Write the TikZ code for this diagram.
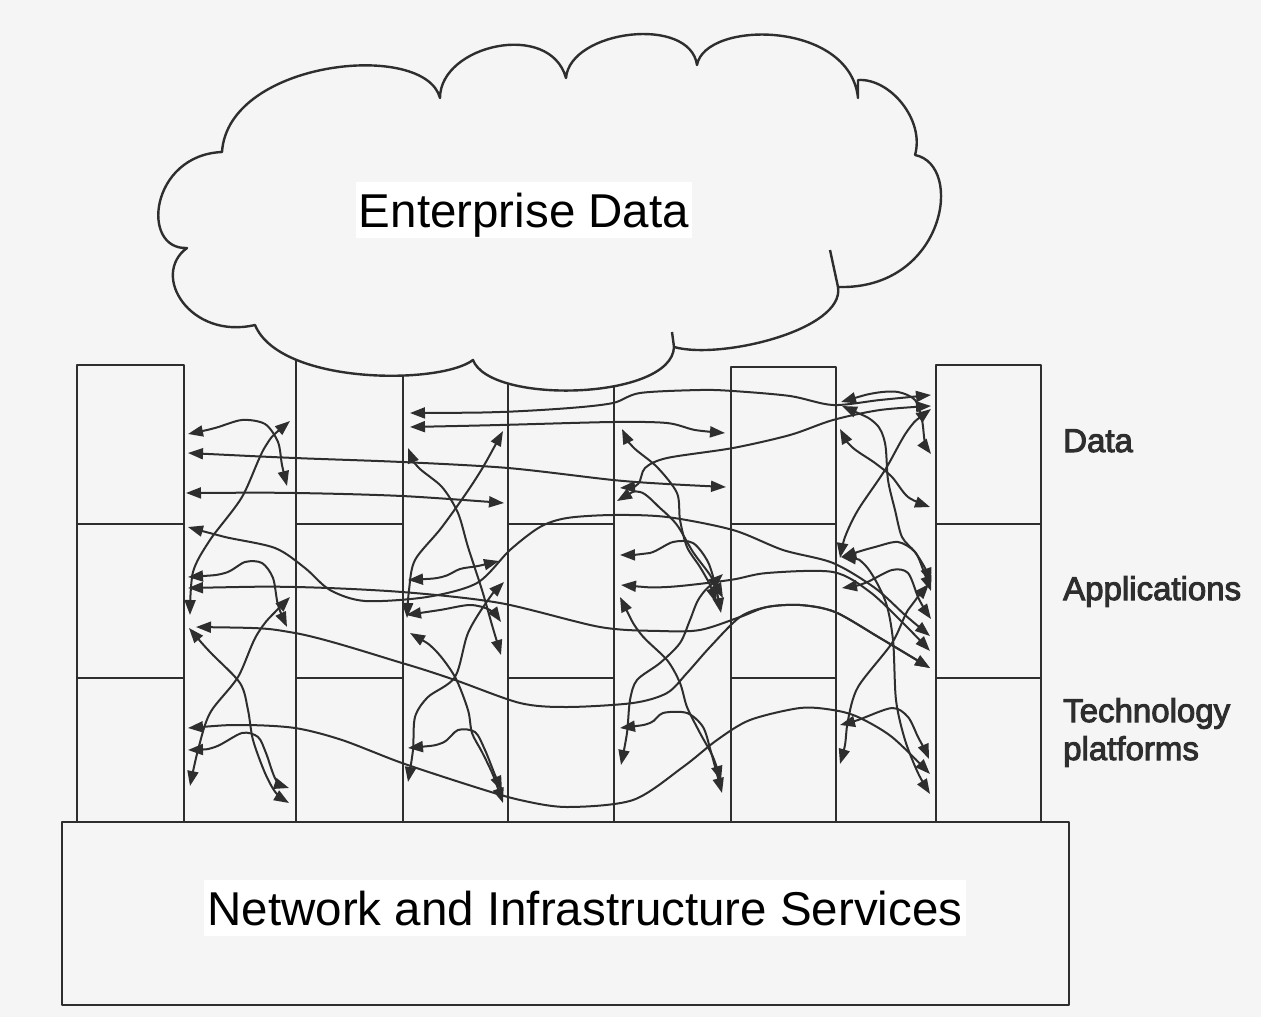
\documentclass[tikz,border=0pt]{standalone}
\usepackage{fontspec}
\setmainfont{Liberation Sans}
\newfontfamily\layerfont{Liberation Sans}[BoldFont={Liberation Sans}, BoldFeatures={FakeBold=3}]
\usetikzlibrary{arrows.meta}
\definecolor{paper}{gray}{0.96}
\definecolor{ink}{gray}{0.18}

\begin{document}
\begin{tikzpicture}[x=1pt,y=-1pt,
  frame/.style={draw=ink, line width=2.4pt, line join=round},
  wire/.style={draw=ink, line width=2pt, line join=round,
    {Triangle[length=15pt,width=11pt]}-{Triangle[length=15pt,width=11pt]}},
  banner/.style={fill=white, inner xsep=3pt, inner ysep=0pt,
    text height=45pt, text depth=11pt, font=\fontsize{47.5}{57}\selectfont},
  layer/.style={anchor=base west, text=black!82, inner sep=0pt,
    font=\layerfont\bfseries\fontsize{33}{38}\selectfont}]

\useasboundingbox (0,0) rectangle (1261,1017);
\fill[paper] (0,0) rectangle (1261,1017);

% ---- the five stacks: data / applications / technology platforms
\foreach \l/\r/\t in {77/184/365, 296/403/340, 508/614/340, 731/836/367, 936/1041/365} {
  \draw[frame] (\l,822) -- (\l,\t) -- (\r,\t) -- (\r,822);
  \draw[frame] (\l,524) -- (\r,524) (\l,678) -- (\r,678);
}

% ---- enterprise data cloud (covers the tops of the middle stacks)
\draw[frame, fill=paper] (187,248)
  .. controls (140,250) and (150,155) .. (222,152)
  .. controls (228,60) and (425,40) .. (440,98)
  .. controls (440,45) and (550,20) .. (566,78)
  .. controls (570,30) and (690,15) .. (697,65)
  .. controls (705,20) and (850,20) .. (858,98)
  -- (858,80)
  .. controls (890,78) and (925,120) .. (915,155)
  .. controls (965,165) and (945,290) .. (838,287)
  .. controls (845,330) and (720,360) .. (674,347)
  .. controls (672,400) and (490,405) .. (473,360)
  .. controls (440,385) and (280,385) .. (255,325)
  .. controls (190,340) and (150,275) .. (187,248) -- cycle;
\draw[frame] (838,287) -- (830,250);
\draw[frame] (674,347) -- (672,332);

% ---- network and infrastructure base
\draw[frame] (62,822) rectangle (1069,1005);

% ---- point-to-point interfaces, gap 1
\draw[wire] plot[smooth] coordinates {(188,434) (215,428) (242,420) (265,424) (278,442) (282,465) (287,486)};
\draw[wire] plot[smooth] coordinates {(188,453) (295,458) (402,462) (508,468) (613,480) (667,484) (726,487)};
\draw[wire] plot[smooth] coordinates {(186,493) (295,493) (402,496) (504,503)};
\draw[wire] plot[smooth] coordinates {(290,421) (265,447) (242,497) (210,540) (193,572) (190,615)};
\draw[wire] plot[smooth] coordinates {(188,527) (225,537) (275,548) (305,568) (330,590) (365,601) (427,597) (477,583) (510,550) (540,527) (567,518) (613,515) (667,517) (733,530) (783,550) (833,563) (875,588) (905,615) (930,636)};
\draw[wire] plot[smooth] coordinates {(188,577) (225,573) (245,562) (262,563) (273,578) (278,605) (287,627)};
\draw[wire] plot[smooth] coordinates {(188,588) (295,587) (402,592) (500,603) (600,627) (660,631) (700,630) (740,617) (767,607) (800,605) (835,612) (880,638) (930,668)};
\draw[wire] plot[smooth] coordinates {(189,628) (210,652) (240,683) (248,710) (253,740) (265,773) (276,793) (289,803)};
\draw[wire] plot[smooth] coordinates {(290,597) (258,633) (238,677) (210,713) (198,750) (190,786)};
\draw[wire] plot[smooth] coordinates {(188,728) (242,725) (295,728) (342,740) (402,763) (475,787) (520,800) (567,807) (633,800) (683,767) (717,740) (750,720) (800,708) (833,710) (858,717) (892,737) (930,774)};
\draw[wire] plot[smooth] coordinates {(188,750) (215,747) (242,733) (258,737) (266,753) (276,780) (289,788)};
\draw[wire] plot[smooth] coordinates {(196,627) (295,633) (402,663) (455,680) (520,703) (567,707) (633,703) (667,693) (687,673) (710,647) (740,617) (767,607) (800,605) (835,612) (880,638) (930,668)};

% ---- gap 2
\draw[wire] plot[smooth] coordinates {(410,413) (500,412) (570,408) (613,403) (640,393) (700,390) (733,391) (790,396) (833,405) (880,400) (931,395)};
\draw[wire] plot[smooth] coordinates {(410,427) (500,425) (613,422) (667,423) (695,430) (725,433)};
\draw[wire] plot[smooth] coordinates {(408,448) (418,467) (442,487) (458,513) (468,547) (482,590) (492,625) (501,655)};
\draw[wire] plot[smooth] coordinates {(503,431) (475,480) (442,527) (415,560) (409,590) (407,618)};
\draw[wire] plot[smooth] coordinates {(408,580) (442,577) (460,569) (478,566) (499,561)};
\draw[wire] plot[smooth] coordinates {(504,582) (488,600) (468,633) (455,677) (428,697) (415,717) (413,750) (408,782)};
\draw[wire] plot[smooth] coordinates {(410,633) (435,650) (455,677) (468,710) (472,733) (482,752) (493,775) (503,803)};
\draw[wire] plot[smooth] coordinates {(408,748) (442,743) (458,730) (475,732) (485,750) (495,775) (502,791)};
\draw[wire] plot[smooth] coordinates {(406,615) (440,610) (470,605) (490,610) (501,622)};

% ---- gap 3
\draw[wire] plot[smooth] coordinates {(622,429) (633,447) (657,467) (677,493) (680,520) (687,547) (700,567) (710,585) (716,603)};
\draw[wire] plot[smooth] coordinates {(620,488) (638,484) (645,468) (667,458) (733,448) (790,435) (833,420) (880,410) (931,406)};
\draw[wire] plot[smooth] coordinates {(617,501) (640,492) (660,508) (677,525) (693,552) (710,575) (723,598)};
\draw[wire] plot[smooth] coordinates {(620,555) (650,553) (673,542) (693,543) (708,562) (716,588) (721,613)};
\draw[wire] plot[smooth] coordinates {(621,585) (667,587) (730,580) (767,573) (833,572) (870,592) (905,625) (930,651)};
\draw[wire] plot[smooth] coordinates {(723,574) (700,597) (690,620) (680,643) (660,663) (637,680) (630,700) (627,733) (621,765)};
\draw[wire] plot[smooth] coordinates {(620,597) (640,633) (667,660) (680,683) (687,707) (700,733) (713,757) (721,781)};
\draw[wire] plot[smooth] coordinates {(620,728) (650,723) (663,713) (687,713) (703,727) (711,752) (722,793)};

% ---- gap 4
\draw[wire] plot[smooth] coordinates {(841,402) (875,393) (898,392) (915,400) (922,420) (925,443) (931,454)};
\draw[wire] plot[smooth] coordinates {(840,429) (852,447) (875,463) (892,477) (908,497) (930,507)};
\draw[wire] plot[smooth] coordinates {(931,409) (908,430) (885,470) (858,510) (845,537) (840,558)};
\draw[wire] plot[smooth] coordinates {(842,406) (875,423) (885,443) (888,480) (895,510) (902,537) (915,552) (925,568) (931,583)};
\draw[wire] plot[smooth] coordinates {(841,557) (875,547) (898,542) (915,552) (924,572) (931,591)};
\draw[wire] plot[smooth] coordinates {(929,584) (908,610) (892,643) (858,687) (848,720) (845,745) (840,764)};
\draw[wire] plot[smooth] coordinates {(842,588) (865,583) (892,570) (908,573) (918,597) (925,610) (931,619)};
\draw[wire] plot[smooth] coordinates {(840,725) (858,720) (892,708) (908,717) (918,737) (925,750) (929,759)};
\draw[wire] plot[smooth] coordinates {(841,557) (865,565) (885,600) (893,640) (896,700) (905,740) (918,773) (930,794)};

% ---- labels
\node[banner, anchor=base] (cloudlabel) at (524,227) {Enterprise Data};
\node[banner, anchor=base] (baselabel) at (585,925) {Network and Infrastructure Services};
\node[layer] (ldata) at (1063,452) {Data};
\node[layer] (lapps) at (1063,600) {Applications};
\node[layer] (ltech) at (1063,722) {Technology};
\node[layer] (lplat) at (1063,760) {platforms};
\end{tikzpicture}
\end{document}
